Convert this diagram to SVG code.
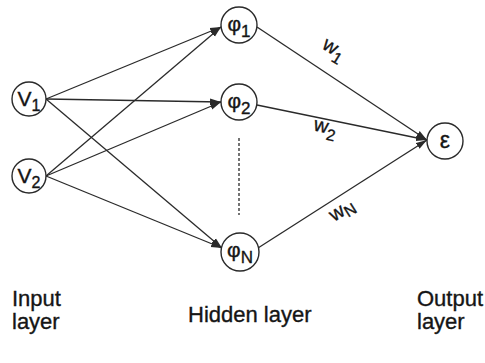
<svg xmlns="http://www.w3.org/2000/svg" width="485" height="363" viewBox="0 0 485 363">
<style>
.node{fill:#fff;stroke:#2a2a2a;stroke-width:1.4}
.lbl{font-family:"Liberation Sans",Arial,sans-serif;fill:#151515;stroke:#151515;stroke-width:0.35}
.edge{stroke:#2a2a2a;stroke-width:1.3;fill:none}
</style>
<defs>
<marker id="arr" markerUnits="userSpaceOnUse" markerWidth="11" markerHeight="8" refX="11" refY="4" orient="auto">
<path d="M0,0.6 L11,4 L0,7.4 z" fill="#2a2a2a"/>
</marker>
</defs>
<rect width="485" height="363" fill="#fff"/>
<g id="connectors">
<line class="edge" x1="46" y1="99" x2="221" y2="27" marker-end="url(#arr)"/>
<line class="edge" x1="46" y1="99" x2="221" y2="102" marker-end="url(#arr)"/>
<line class="edge" x1="46" y1="99" x2="222" y2="248" marker-end="url(#arr)"/>
<line class="edge" x1="46" y1="176" x2="221" y2="27" marker-end="url(#arr)"/>
<line class="edge" x1="46" y1="176" x2="221" y2="102" marker-end="url(#arr)"/>
<line class="edge" x1="46" y1="176" x2="222" y2="248" marker-end="url(#arr)"/>
<line class="edge" x1="257" y1="27" x2="427" y2="140" marker-end="url(#arr)"/>
<line class="edge" x1="257" y1="105" x2="427" y2="140" marker-end="url(#arr)"/>
<line class="edge" x1="258" y1="248" x2="427" y2="140" marker-end="url(#arr)"/>
<line x1="239" y1="138" x2="239" y2="215" stroke="#2a2a2a" stroke-width="1.3" stroke-dasharray="3,2"/>
<text class="lbl" font-size="20" transform="translate(331,54) rotate(32)" text-anchor="middle">w<tspan font-size="16" dy="6">1</tspan></text>
<text class="lbl" font-size="20" transform="translate(324,133) rotate(13)" text-anchor="middle">w<tspan font-size="16" dy="6">2</tspan></text>
<text class="lbl" font-size="20" transform="translate(345,215) rotate(-32)" text-anchor="middle">w<tspan font-size="16" dy="4">N</tspan></text>
</g>
<g id="v1">
<circle class="node" cx="29" cy="99" r="17"/>
<text class="lbl" x="29" y="106" font-size="21" text-anchor="middle">V<tspan font-size="16" dy="5">1</tspan></text>
</g>
<g id="v2">
<circle class="node" cx="29" cy="176" r="17"/>
<text class="lbl" x="29" y="183" font-size="21" text-anchor="middle">V<tspan font-size="16" dy="5">2</tspan></text>
</g>
<g id="phi1">
<circle class="node" cx="239" cy="25" r="18"/>
<text class="lbl" x="239" y="31" font-size="21" text-anchor="middle">φ<tspan font-size="17" dy="6">1</tspan></text>
</g>
<g id="phi2">
<circle class="node" cx="239" cy="102" r="18"/>
<text class="lbl" x="239" y="108" font-size="21" text-anchor="middle">φ<tspan font-size="17" dy="6">2</tspan></text>
</g>
<g id="phiN">
<circle class="node" cx="240" cy="252" r="19"/>
<text class="lbl" x="240" y="257" font-size="21" text-anchor="middle">φ<tspan font-size="17" dy="6">N</tspan></text>
</g>
<g id="eps">
<circle class="node" cx="445" cy="141" r="18"/>
<text class="lbl" x="445" y="148" font-size="23" text-anchor="middle">ε</text>
</g>
<g id="labels">
<text class="lbl" x="12" y="306" font-size="22">Input</text>
<text class="lbl" x="12" y="329" font-size="22">layer</text>
<text class="lbl" x="188" y="322" font-size="22">Hidden layer</text>
<text class="lbl" x="417" y="306" font-size="22">Output</text>
<text class="lbl" x="417" y="329" font-size="22">layer</text>
</g>
</svg>
